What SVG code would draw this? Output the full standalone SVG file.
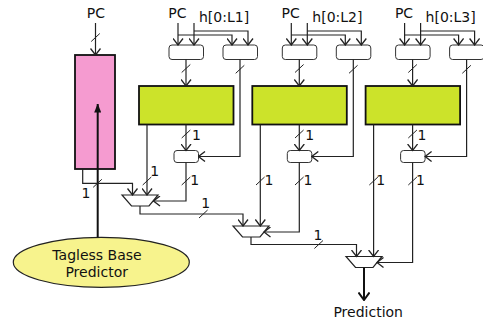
<svg xmlns="http://www.w3.org/2000/svg" width="483" height="324" viewBox="0 0 483 324">
<style>
text{font-family:"DejaVu Sans","Liberation Sans",sans-serif;font-size:14px;fill:#111}
.c{fill:none;stroke:#222;stroke-width:1.2}
.s{fill:none;stroke:#222;stroke-width:1}
.hash{fill:#fff;stroke:#333;stroke-width:1}
.green{fill:#cce32a;stroke:#111;stroke-width:1.8}
.mux{fill:#fff;stroke:#222;stroke-width:1.2}
</style>
<defs>
<marker id="a" markerUnits="userSpaceOnUse" viewBox="0 0 8 11" refX="7" refY="5.5" markerWidth="8" markerHeight="11" orient="auto">
<path d="M0.5,0.5 L7,5.5 L0.5,10.5" fill="none" stroke="#222" stroke-width="1.3"/>
</marker>
<marker id="ab" markerUnits="userSpaceOnUse" viewBox="0 0 9 12" refX="8" refY="6" markerWidth="9" markerHeight="12" orient="auto">
<path d="M0.5,0.5 L8,6 L0.5,11.5" fill="none" stroke="#111" stroke-width="2"/>
</marker>
<marker id="t" markerUnits="userSpaceOnUse" viewBox="0 0 9 7" refX="8.5" refY="3.5" markerWidth="9" markerHeight="7" orient="auto">
<path d="M0,0 L9,3.5 L0,7 Z" fill="#111"/>
</marker>
</defs>

<g id="base">
<rect x="75" y="55" width="40" height="114" fill="#f59bd0" stroke="#111" stroke-width="1.8"/>
<text x="95.8" y="17.5" text-anchor="middle">PC</text>
</g>

<g id="tagless">
<ellipse cx="101.3" cy="262.3" rx="88" ry="25" fill="#f7f38d" stroke="#222" stroke-width="1.2"/>
<text x="97" y="259.5" text-anchor="middle">Tagless Base</text>
<text x="96.7" y="277" text-anchor="middle">Predictor</text>
</g>

<g id="t1">
<text x="168.3" y="17.5">PC</text>
<text x="199" y="22">h[0:L1]</text>
<rect class="hash" x="169" y="45" width="34.5" height="14.5" rx="3"/>
<rect class="hash" x="223" y="45" width="34.5" height="14.5" rx="3"/>
<rect class="green" x="139" y="86" width="94.5" height="38.5"/>
<rect class="hash" x="174" y="150.5" width="24.5" height="12" rx="3"/>
</g>
<g id="t2">
<text x="281.6" y="17.5">PC</text>
<text x="312.3" y="22">h[0:L2]</text>
<rect class="hash" x="282.3" y="45" width="34.5" height="14.5" rx="3"/>
<rect class="hash" x="336.3" y="45" width="34.5" height="14.5" rx="3"/>
<rect class="green" x="252.3" y="86" width="94.5" height="38.5"/>
<rect class="hash" x="287.3" y="150.5" width="24.5" height="12" rx="3"/>
</g>
<g id="t3">
<text x="394.9" y="17.5">PC</text>
<text x="425.6" y="22">h[0:L3]</text>
<rect class="hash" x="395.6" y="45" width="34.5" height="14.5" rx="3"/>
<rect class="hash" x="449.6" y="45" width="34.5" height="14.5" rx="3"/>
<rect class="green" x="365.6" y="86" width="94.5" height="38.5"/>
<rect class="hash" x="400.6" y="150.5" width="24.5" height="12" rx="3"/>
</g>

<g id="mux1"><path class="mux" d="M122,195 H158 L149,206 H131.5 Z"/></g>
<g id="mux2"><path class="mux" d="M233,226 H269 L260,237 H242.5 Z"/></g>
<g id="mux3"><path class="mux" d="M346,256.5 H382 L373,267.5 H355.5 Z"/></g>

<g id="connectors">
<!-- base -->
<path class="c" d="M95.5,23 V55" marker-end="url(#a)"/>
<path d="M97.7,237.3 V104" fill="none" stroke="#111" stroke-width="2" marker-end="url(#t)"/>
<path class="c" d="M82.7,169 V183.3 H132.5 V195" marker-end="url(#a)"/>
<!-- block 1 -->
<path class="c" d="M178,23 V45" marker-end="url(#a)"/>
<path class="c" d="M194,23 V45" marker-end="url(#a)"/>
<path class="c" d="M178,35 H232 V45" marker-end="url(#a)"/>
<path class="c" d="M194,31 H248 V45" marker-end="url(#a)"/>
<path class="c" d="M186,59.5 V86" marker-end="url(#a)"/>
<path class="c" d="M240,59.5 V156.5 H198.5" marker-end="url(#a)"/>
<path class="c" d="M186,124.5 V150.5" marker-end="url(#a)"/>
<path class="c" d="M147,124.5 V195" marker-end="url(#a)"/>
<path class="c" d="M186,162.5 V201 H153.5" marker-end="url(#a)"/>
<!-- block 2 -->
<path class="c" d="M291.3,23 V45" marker-end="url(#a)"/>
<path class="c" d="M307.3,23 V45" marker-end="url(#a)"/>
<path class="c" d="M291.3,35 H345.3 V45" marker-end="url(#a)"/>
<path class="c" d="M307.3,31 H361.3 V45" marker-end="url(#a)"/>
<path class="c" d="M299.3,59.5 V86" marker-end="url(#a)"/>
<path class="c" d="M353.3,59.5 V156.5 H311.8" marker-end="url(#a)"/>
<path class="c" d="M299.3,124.5 V150.5" marker-end="url(#a)"/>
<path class="c" d="M260.3,124.5 V226" marker-end="url(#a)"/>
<path class="c" d="M299.3,162.5 V232 H264" marker-end="url(#a)"/>
<!-- block 3 -->
<path class="c" d="M404.6,23 V45" marker-end="url(#a)"/>
<path class="c" d="M420.6,23 V45" marker-end="url(#a)"/>
<path class="c" d="M404.6,35 H458.6 V45" marker-end="url(#a)"/>
<path class="c" d="M420.6,31 H474.6 V45" marker-end="url(#a)"/>
<path class="c" d="M412.6,59.5 V86" marker-end="url(#a)"/>
<path class="c" d="M466.6,59.5 V156.5 H425.1" marker-end="url(#a)"/>
<path class="c" d="M412.6,124.5 V150.5" marker-end="url(#a)"/>
<path class="c" d="M373.6,124.5 V256.5" marker-end="url(#a)"/>
<path class="c" d="M412.6,162.5 V262.5 H377" marker-end="url(#a)"/>
<!-- mux chain -->
<path class="c" d="M140,206 V214 H243 V226" marker-end="url(#a)"/>
<path class="c" d="M251,237 V244.5 H356.5 V256.5" marker-end="url(#a)"/>
<path d="M364,267.5 V300" fill="none" stroke="#111" stroke-width="2" marker-end="url(#ab)"/>
<!-- bus slashes -->
<path class="s" d="M91.2,41.5 l8.6,-8 M181.7,72.5 l8.6,-8 M235.7,73.3 l8.6,-8 M295,72.5 l8.6,-8 M349,73.3 l8.6,-8 M408.3,72.5 l8.6,-8 M462.3,73.3 l8.6,-8
M181.7,138 l8.6,-8 M295,138 l8.6,-8 M408.3,138 l8.6,-8
M142.7,185 l8.6,-8 M256,185 l8.6,-8 M369.3,185 l8.6,-8
M181.7,185 l8.6,-8 M295,185 l8.6,-8 M408.3,185 l8.6,-8
M93.2,187.3 l8.6,-8 M199,218 l8.6,-8 M314.4,248.5 l8.6,-8"/>
</g>

<g id="labels">
<text x="192" y="139.5">1</text>
<text x="305.3" y="139.5">1</text>
<text x="417.5" y="139.5">1</text>
<text x="150.3" y="176">1</text>
<text x="264.6" y="184.5">1</text>
<text x="376.3" y="184.5">1</text>
<text x="190.3" y="185">1</text>
<text x="303.6" y="185">1</text>
<text x="416" y="185">1</text>
<text x="81.5" y="198">1</text>
<text x="201.3" y="207.7">1</text>
<text x="313.6" y="239.5">1</text>
<text x="368.2" y="317" text-anchor="middle">Prediction</text>
</g>
</svg>
